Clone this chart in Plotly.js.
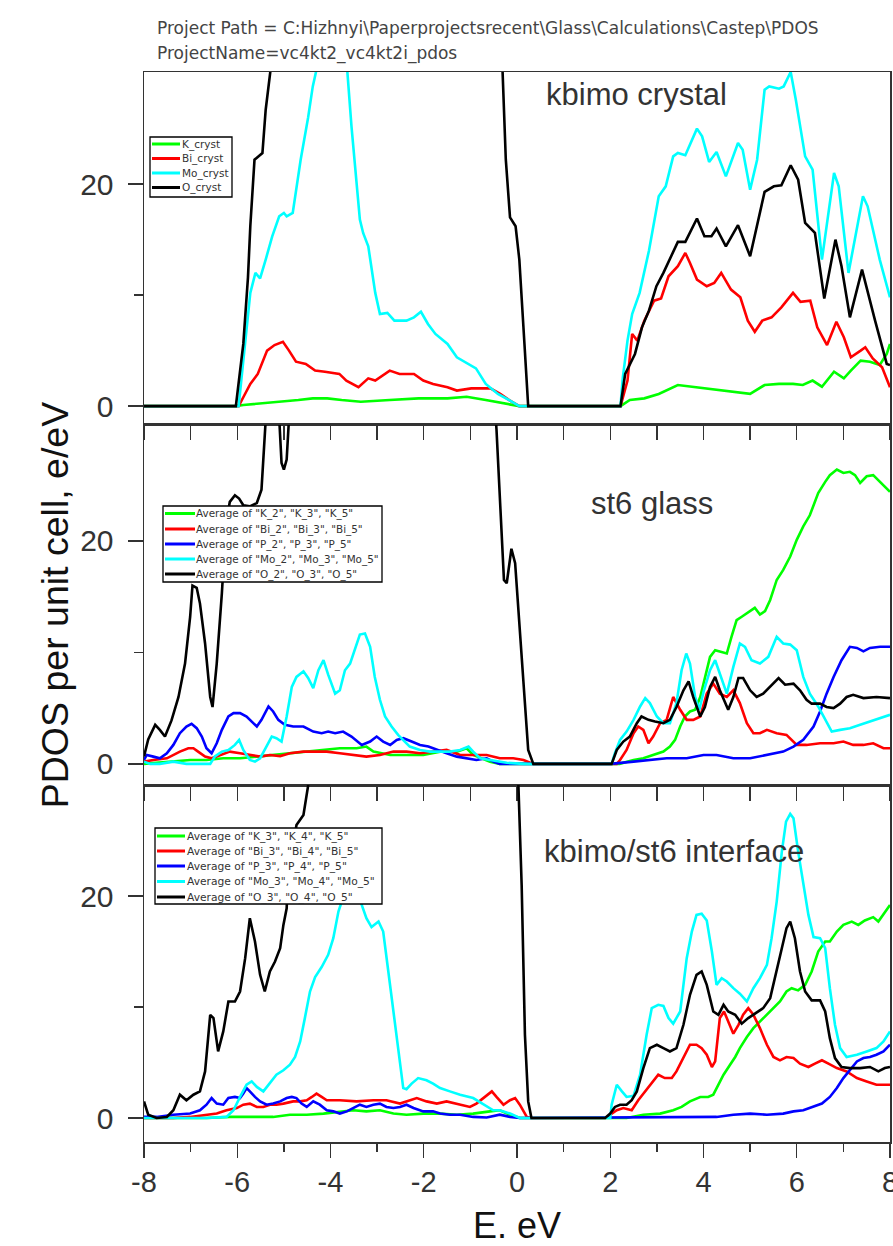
<!DOCTYPE html>
<html><head><meta charset="utf-8">
<script src="https://cdn.plot.ly/plotly-3.0.1.min.js"></script>
<style>html,body{margin:0;padding:0;background:#fff;} #chart{width:893px;height:1246px;}</style>
</head><body><div id="chart"></div>
<script>
// ---------- Panel 1: kbimo crystal  ([E, PDOS] pairs) ----------
const K_cryst = [[-8,0],[-6.03,0],[-5.87,0.1],[-5.41,0.25],[-5.0,0.4],[-4.69,0.55],[-4.38,0.7],[-4.07,0.7],[-3.76,0.55],[-3.35,0.4],[-2.73,0.55],[-2.11,0.7],[-1.49,0.7],[-1.08,0.85],[-0.67,0.55],[-0.26,0.25],[0.05,0],[2.22,0],[2.42,0.55],[2.73,0.7],[3.04,1.1],[3.45,1.9],[3.76,1.75],[4.07,1.6],[4.48,1.4],[4.79,1.25],[5.0,1.1],[5.31,1.9],[5.62,2.0],[5.92,2.0],[6.13,1.9],[6.34,2.3],[6.54,1.75],[6.8,3.1],[7.01,2.5],[7.16,3.2],[7.37,4.1],[7.57,4.0],[7.78,3.7],[7.93,4.7],[8.0,5.6]];
const Bi_cryst = [[-8,0],[-5.97,0],[-5.87,0.8],[-5.72,2.0],[-5.56,2.9],[-5.36,5.0],[-5.2,5.5],[-5.02,5.8],[-4.89,5.0],[-4.74,4.0],[-4.53,3.8],[-4.33,3.2],[-4.12,3.1],[-3.81,2.9],[-3.66,2.3],[-3.4,1.7],[-3.19,2.5],[-3.04,2.3],[-2.73,3.2],[-2.52,2.9],[-2.21,2.9],[-2.01,2.3],[-1.8,2.0],[-1.49,1.7],[-1.29,1.4],[-0.98,1.6],[-0.57,1.6],[-0.36,1.1],[-0.15,0.5],[0.05,0],[2.22,0],[2.37,2.3],[2.47,6.5],[2.58,5.9],[2.73,7.7],[2.94,9.5],[3.09,9.7],[3.25,11.7],[3.45,12.6],[3.61,13.8],[3.71,12.9],[3.86,11.4],[4.07,10.8],[4.23,11.1],[4.38,12.0],[4.59,10.5],[4.79,9.8],[4.95,7.7],[5.1,6.7],[5.26,7.7],[5.46,8.0],[5.67,8.9],[5.92,10.2],[6.08,9.4],[6.29,9.5],[6.44,7.1],[6.65,5.5],[6.85,7.6],[7.01,6.2],[7.16,4.4],[7.37,5.0],[7.47,5.3],[7.63,4.3],[7.83,3.5],[8.0,1.7]];
const Mo_cryst = [[-8,0],[-5.97,0],[-5.87,4.1],[-5.72,10.2],[-5.61,12.0],[-5.51,11.5],[-5.39,13.2],[-5.25,15.3],[-5.1,17.1],[-5.0,17.4],[-4.94,17.1],[-4.81,17.4],[-4.64,22.2],[-4.48,26.0],[-4.38,28.8],[-4.3,30.2],[-4.0,36],[-3.8,34],[-3.64,30.2],[-3.55,25.2],[-3.45,20.7],[-3.37,16.8],[-3.3,15.6],[-3.19,14.4],[-3.04,10.2],[-2.94,8.3],[-2.78,8.4],[-2.63,7.7],[-2.37,7.7],[-2.21,8.0],[-2.06,8.5],[-1.91,7.4],[-1.75,6.5],[-1.49,5.6],[-1.29,4.4],[-1.03,3.8],[-0.88,3.4],[-0.67,2.0],[-0.41,1.1],[-0.15,0.5],[0.05,0],[2.22,0],[2.27,2.6],[2.37,5.9],[2.47,8.3],[2.63,10.2],[2.83,14.0],[3.04,18.9],[3.19,19.8],[3.35,22.5],[3.45,22.8],[3.61,22.6],[3.86,25.0],[3.97,24.3],[4.12,22.0],[4.28,22.9],[4.48,20.7],[4.74,23.7],[4.84,23.1],[5.0,19.5],[5.15,22.2],[5.31,28.5],[5.41,28.8],[5.62,28.6],[5.72,28.8],[5.87,30.1],[5.98,27.6],[6.18,22.5],[6.34,21.3],[6.54,13.2],[6.8,21.0],[6.9,19.8],[7.11,12.0],[7.42,18.9],[7.52,18.0],[7.78,13.2],[8.0,9.8]];
const O_cryst = [[-8,0],[-6.03,0],[-5.87,5.6],[-5.77,11.6],[-5.72,16.2],[-5.63,22.2],[-5.46,22.8],[-5.39,26.7],[-5.28,30.5],[-5.0,40],[-1.0,45],[-0.31,30.2],[-0.24,22.2],[-0.15,17.0],[-0.03,16.2],[0.05,13.2],[0.16,5.6],[0.24,0],[2.22,0],[2.32,2.9],[2.53,4.7],[2.68,7.1],[2.83,8.6],[2.99,10.8],[3.14,12.0],[3.35,13.8],[3.45,14.8],[3.61,14.8],[3.86,16.9],[4.02,15.3],[4.17,15.3],[4.28,16.0],[4.48,14.4],[4.74,16.3],[5.0,13.5],[5.31,19.3],[5.51,19.8],[5.67,19.9],[5.87,21.7],[6.03,20.4],[6.18,16.5],[6.39,15.6],[6.59,9.7],[6.83,15.0],[6.96,12.6],[7.14,8.0],[7.4,12.3],[7.68,7.7],[7.93,3.8],[8.0,3.7]];

// ---------- Panel 2: st6 glass ----------
const K_glass = [[-8,0],[-7.37,0.2],[-7.01,0.35],[-6.66,0.35],[-6.3,0.5],[-5.94,0.5],[-5.58,0.65],[-5.23,0.8],[-4.87,0.95],[-4.51,1.1],[-4.15,1.25],[-3.8,1.4],[-3.44,1.4],[-3.23,1.55],[-3.08,1.1],[-2.72,0.8],[-2.37,0.8],[-2.01,0.8],[-1.65,1.1],[-1.29,1.1],[-1.08,1.4],[-0.94,0.8],[-0.58,0.2],[-0.37,0],[2.2,0],[2.5,0.35],[2.71,0.5],[2.92,0.8],[3.14,1.1],[3.28,1.55],[3.39,2.15],[3.5,3.35],[3.6,4.25],[3.71,4.7],[3.82,4.85],[3.93,6.0],[4.03,7.8],[4.14,9.6],[4.25,10.2],[4.35,10.1],[4.5,9.9],[4.6,11.4],[4.71,12.9],[4.82,13.2],[5.0,13.7],[5.1,14.0],[5.21,13.4],[5.32,13.7],[5.43,14.7],[5.57,16.5],[5.71,17.4],[5.86,18.6],[6.0,20.1],[6.14,21.3],[6.28,22.3],[6.46,24.3],[6.61,25.3],[6.71,25.9],[6.86,26.4],[7.0,26.1],[7.14,26.2],[7.25,25.9],[7.36,25.2],[7.5,25.8],[7.64,25.9],[7.79,25.3],[8.0,24.4]];
const Bi_glass = [[-8,0.2],[-7.8,0.35],[-7.51,0.5],[-7.37,0.8],[-7.23,1.1],[-7.05,1.4],[-6.94,1.4],[-6.84,1.1],[-6.69,0.65],[-6.55,0.5],[-6.33,0.8],[-6.16,1.1],[-5.94,0.95],[-5.73,0.8],[-5.51,0.65],[-5.3,0.8],[-5.08,0.7],[-4.87,0.95],[-4.58,1.1],[-4.37,1.1],[-4.08,1.1],[-3.8,0.95],[-3.51,0.8],[-3.23,0.65],[-2.94,0.8],[-2.65,1.1],[-2.37,1.1],[-2.08,0.95],[-1.8,1.1],[-1.51,1.25],[-1.22,0.8],[-0.94,0.8],[-0.65,0.8],[-0.37,0.5],[-0.08,0.5],[0.14,0.35],[0.35,0],[2.14,0],[2.21,0.35],[2.35,1.25],[2.5,2.75],[2.6,3.35],[2.71,3.05],[2.82,1.85],[2.92,2.45],[3.07,3.65],[3.21,3.95],[3.35,6.0],[3.5,4.85],[3.64,3.95],[3.78,3.95],[3.93,4.25],[4.07,6.3],[4.21,7.2],[4.35,6.3],[4.5,6.0],[4.64,6.6],[4.78,5.45],[4.93,3.65],[5.07,2.75],[5.21,2.75],[5.36,3.05],[5.57,2.75],[5.78,2.6],[6.0,1.7],[6.21,1.7],[6.5,1.85],[6.79,1.85],[7.0,2.0],[7.21,1.7],[7.43,1.7],[7.64,1.85],[7.86,1.4],[8.0,1.4]];
const P_glass = [[-8,0.35],[-7.94,0.8],[-7.8,0.65],[-7.66,0.5],[-7.51,0.95],[-7.37,1.7],[-7.23,2.75],[-7.09,3.35],[-6.98,3.6],[-6.87,3.2],[-6.76,2.45],[-6.66,1.4],[-6.55,0.95],[-6.44,1.85],[-6.33,3.05],[-6.19,4.25],[-6.08,4.55],[-5.94,4.55],[-5.8,4.25],[-5.69,3.8],[-5.58,3.35],[-5.48,3.95],[-5.33,5.15],[-5.23,4.7],[-5.12,3.95],[-4.98,3.5],[-4.8,3.35],[-4.58,3.35],[-4.37,2.9],[-4.19,2.75],[-4.05,2.9],[-3.9,2.75],[-3.73,2.9],[-3.55,2.45],[-3.33,1.7],[-3.15,2.0],[-3.01,2.45],[-2.87,2.0],[-2.72,1.7],[-2.58,2.15],[-2.44,2.3],[-2.26,2.0],[-2.08,1.7],[-1.9,1.55],[-1.72,1.25],[-1.51,0.95],[-1.29,0.65],[-1.08,0.5],[-0.87,0.35],[-0.65,0.5],[-0.51,0.2],[-0.37,0],[2.0,0],[2.5,0.2],[2.85,0.35],[3.21,0.5],[3.64,0.5],[4.0,0.8],[4.28,0.8],[4.64,0.5],[5.0,0.5],[5.36,0.8],[5.71,1.1],[5.93,1.55],[6.14,2.15],[6.36,3.35],[6.5,4.7],[6.64,6.3],[6.79,7.8],[6.96,9.3],[7.14,10.5],[7.29,10.4],[7.43,10.1],[7.57,10.4],[7.79,10.5],[8.0,10.5]];
const Mo_glass = [[-8,0.2],[-7.87,0],[-7.66,0],[-7.37,0.2],[-7.09,0],[-6.58,0],[-6.48,0.66],[-6.33,1.1],[-6.19,1.25],[-6.05,1.7],[-5.96,2.15],[-5.87,1.25],[-5.73,0.35],[-5.62,0.2],[-5.51,0.5],[-5.41,1.25],[-5.26,2.45],[-5.16,2.3],[-5.05,2.0],[-4.94,4.25],[-4.83,6.9],[-4.73,7.8],[-4.58,8.3],[-4.48,7.7],[-4.37,6.8],[-4.26,8.4],[-4.15,9.3],[-4.05,8.0],[-3.9,6.3],[-3.8,6.6],[-3.69,8.4],[-3.58,9.0],[-3.48,10.2],[-3.37,11.6],[-3.26,11.7],[-3.15,10.5],[-3.05,7.8],[-2.94,5.75],[-2.83,4.25],[-2.69,3.35],[-2.55,2.6],[-2.44,2.15],[-2.3,1.55],[-2.08,1.25],[-1.87,1.1],[-1.65,1.1],[-1.44,1.1],[-1.22,1.25],[-1.04,1.55],[-0.94,1.1],[-0.79,0.5],[-0.58,0.35],[-0.37,0.2],[-0.22,0.1],[0.14,0],[2.03,0],[2.1,0.95],[2.21,2.15],[2.35,2.9],[2.5,3.95],[2.64,5.15],[2.75,5.9],[2.85,5.45],[3.0,4.25],[3.14,3.65],[3.28,3.65],[3.42,5.45],[3.53,8.4],[3.63,9.9],[3.71,9.0],[3.82,6.0],[3.91,4.85],[4.01,6.6],[4.14,8.4],[4.25,9.3],[4.35,8.1],[4.5,6.3],[4.64,8.7],[4.78,10.8],[4.89,10.5],[5.03,9.3],[5.21,9.0],[5.39,9.6],[5.57,11.4],[5.71,10.8],[5.86,10.7],[6.0,10.2],[6.14,7.8],[6.28,6.3],[6.46,5.15],[6.61,3.95],[6.75,2.9],[6.93,3.05],[7.14,3.2],[7.36,3.5],[7.57,3.8],[7.79,4.1],[8.0,4.4]];
const O_glass = [[-8,0.66],[-7.91,2.2],[-7.76,3.5],[-7.66,3.05],[-7.55,2.45],[-7.41,3.9],[-7.26,6.0],[-7.12,9.0],[-7.01,13.2],[-6.96,16.0],[-6.87,15.8],[-6.8,14.4],[-6.69,10.8],[-6.58,6.0],[-6.53,5.1],[-6.44,9.0],[-6.33,15.3],[-6.24,21.6],[-6.16,23.5],[-6.05,24.1],[-5.96,23.8],[-5.87,23.2],[-5.73,23.1],[-5.58,23.4],[-5.48,24.6],[-5.41,29.0],[-5.33,35],[-5.15,35],[-5.1,30.5],[-5.05,27.0],[-5.0,26.4],[-4.94,27.3],[-4.89,31],[-4.5,40],[-2.0,45],[-0.6,40],[-0.44,30],[-0.37,24.0],[-0.28,16.5],[-0.22,16.2],[-0.12,19.3],[-0.04,18.0],[0.06,12.0],[0.17,5.4],[0.24,1.25],[0.35,0],[2.03,0],[2.14,1.25],[2.28,2.0],[2.42,2.45],[2.57,3.65],[2.67,4.25],[2.82,3.95],[2.96,3.8],[3.14,3.65],[3.28,3.95],[3.42,5.1],[3.57,6.6],[3.68,7.4],[3.78,6.0],[3.93,4.25],[4.03,5.1],[4.14,6.9],[4.25,7.8],[4.35,6.6],[4.53,4.85],[4.64,6.0],[4.75,7.7],[4.85,7.7],[5.0,6.6],[5.14,6.0],[5.28,6.3],[5.43,6.9],[5.61,7.7],[5.75,7.1],[5.93,7.2],[6.07,6.6],[6.21,5.75],[6.32,5.4],[6.5,5.4],[6.64,5.1],[6.79,5.0],[6.93,5.4],[7.07,6.0],[7.21,6.2],[7.43,5.9],[7.71,6.0],[8.0,5.9]];

// ---------- Panel 3: kbimo/st6 interface ----------
const K_intf = [[-8,0],[-6.66,0],[-6.16,0.1],[-5.23,0.1],[-4.87,0.3],[-4.51,0.3],[-4.15,0.4],[-3.8,0.6],[-3.51,0.7],[-3.23,0.6],[-2.94,0.7],[-2.65,0.4],[-2.37,0.3],[-2.01,0.4],[-1.65,0.4],[-1.29,0.3],[-0.94,0.4],[-0.58,0.6],[-0.37,0.7],[-0.15,0.3],[0.06,0],[2.35,0],[2.71,0.3],[3.07,0.4],[3.35,0.7],[3.53,1.0],[3.71,1.5],[3.93,1.9],[4.1,1.9],[4.21,2.1],[4.32,3.0],[4.43,3.9],[4.57,4.8],[4.68,5.5],[4.78,6.3],[4.93,7.3],[5.07,8.1],[5.21,8.7],[5.36,9.3],[5.5,9.9],[5.64,10.5],[5.78,11.4],[5.89,11.7],[6.03,11.5],[6.18,12.0],[6.32,13.2],[6.46,15.0],[6.61,15.9],[6.71,15.9],[6.86,16.8],[7.0,17.4],[7.18,17.7],[7.32,17.4],[7.46,17.8],[7.64,18.1],[7.75,17.7],[7.89,18.6],[8.0,19.2]];
const Bi_intf = [[-8,0],[-7.37,0],[-7.01,0.1],[-6.66,0.3],[-6.44,0.4],[-6.23,0.7],[-6.01,0.9],[-5.87,1.2],[-5.73,1.3],[-5.58,1.0],[-5.44,1.0],[-5.3,1.2],[-5.16,1.2],[-5.01,1.3],[-4.8,1.5],[-4.65,1.5],[-4.51,1.6],[-4.4,1.9],[-4.3,2.2],[-4.19,1.9],[-4.08,1.6],[-3.8,1.6],[-3.44,1.5],[-3.08,1.6],[-2.8,1.6],[-2.51,1.3],[-2.37,1.5],[-2.15,1.8],[-1.94,1.5],[-1.72,1.3],[-1.51,1.5],[-1.22,1.2],[-1.01,1.0],[-0.87,1.3],[-0.72,1.8],[-0.54,2.4],[-0.44,1.9],[-0.29,1.2],[-0.15,1.6],[-0.04,1.8],[0.06,1.2],[0.21,0.1],[0.3,0],[1.9,0],[2.0,0.3],[2.14,0.7],[2.28,0.9],[2.46,0.7],[2.6,1.6],[2.75,2.4],[2.89,3.1],[3.03,3.9],[3.17,3.6],[3.32,3.6],[3.42,4.2],[3.57,5.4],[3.71,6.6],[3.85,6.6],[3.96,6.3],[4.07,5.7],[4.18,4.6],[4.25,5.1],[4.35,9.0],[4.44,9.6],[4.53,8.7],[4.64,7.6],[4.75,8.4],[4.85,9.3],[4.96,9.9],[5.07,9.3],[5.21,8.1],[5.36,6.6],[5.5,5.5],[5.64,5.2],[5.78,5.5],[5.93,5.4],[6.07,4.9],[6.25,4.6],[6.39,4.9],[6.54,5.2],[6.68,4.9],[6.86,4.5],[7.07,4.2],[7.29,3.6],[7.5,3.3],[7.71,3.0],[8.0,3.0]];
const P_intf = [[-8,0.1],[-7.73,0.1],[-7.37,0.3],[-7.01,0.4],[-6.8,0.7],[-6.66,1.2],[-6.55,1.8],[-6.44,1.3],[-6.3,1.2],[-6.19,1.8],[-6.05,1.9],[-5.94,1.8],[-5.87,2.2],[-5.8,2.7],[-5.73,2.4],[-5.62,1.9],[-5.51,1.5],[-5.37,1.2],[-5.23,1.3],[-5.08,1.5],[-4.94,1.8],[-4.83,1.9],[-4.73,1.8],[-4.62,1.3],[-4.51,1.0],[-4.37,1.5],[-4.23,1.2],[-4.08,0.7],[-3.94,0.6],[-3.8,0.4],[-3.65,0.6],[-3.51,0.9],[-3.37,1.2],[-3.23,1.0],[-3.08,1.2],[-2.94,1.3],[-2.8,1.0],[-2.65,0.9],[-2.51,1.0],[-2.37,1.2],[-2.22,0.9],[-2.01,0.6],[-1.8,0.6],[-1.65,0.4],[-1.44,0.3],[-1.22,0.3],[-0.94,0.1],[-0.65,0.05],[-0.37,0.3],[-0.15,0.1],[0.06,0],[4.28,0.1],[4.64,0.3],[5.0,0.4],[5.36,0.3],[5.71,0.4],[5.93,0.6],[6.14,0.7],[6.36,1.0],[6.54,1.3],[6.71,1.9],[6.86,2.7],[7.0,3.6],[7.14,4.3],[7.29,5.1],[7.43,5.4],[7.57,5.5],[7.71,5.7],[7.86,6.0],[8.0,6.6]];
const Mo_intf = [[-8,0],[-6.66,0],[-6.23,0.1],[-6.08,0.7],[-5.94,1.9],[-5.8,3.0],[-5.69,3.3],[-5.58,2.8],[-5.44,2.4],[-5.3,3.1],[-5.16,3.9],[-5.01,4.3],[-4.87,4.8],[-4.76,5.5],[-4.65,6.9],[-4.55,9.0],[-4.44,11.4],[-4.33,12.7],[-4.19,13.6],[-4.05,14.7],[-3.94,16.2],[-3.83,18.6],[-3.76,19.5],[-3.65,21.5],[-3.51,22.0],[-3.4,20.5],[-3.33,19.2],[-3.23,18.0],[-3.12,17.2],[-2.97,17.7],[-2.87,16.8],[-2.76,13.2],[-2.65,9.6],[-2.55,6.0],[-2.44,2.7],[-2.37,2.6],[-2.26,3.1],[-2.12,3.6],[-1.94,3.4],[-1.8,3.1],[-1.65,2.7],[-1.44,2.4],[-1.22,2.1],[-0.94,1.8],[-0.72,1.2],[-0.51,0.7],[-0.37,0.7],[-0.15,0.4],[0.06,0],[2.0,0],[2.03,1.2],[2.14,3.0],[2.25,2.4],[2.35,1.9],[2.5,2.0],[2.64,3.9],[2.78,7.5],[2.89,9.9],[3.03,10.2],[3.14,10.1],[3.25,9.0],[3.35,8.5],[3.5,9.6],[3.64,14.4],[3.75,16.8],[3.85,18.3],[3.96,18.4],[4.07,17.8],[4.18,15.0],[4.28,12.0],[4.39,12.6],[4.5,12.3],[4.64,11.7],[4.78,11.2],[4.93,10.5],[5.07,11.7],[5.21,12.6],[5.36,13.8],[5.46,16.2],[5.57,19.5],[5.68,24.0],[5.77,26.7],[5.86,27.4],[5.93,27.0],[6.03,24.0],[6.14,21.0],[6.25,18.3],[6.36,16.3],[6.5,16.2],[6.61,15.3],[6.71,11.7],[6.82,8.4],[6.93,6.3],[7.07,5.5],[7.29,5.7],[7.5,6.0],[7.71,6.3],[7.86,6.9],[8.0,7.8]];
const O_intf = [[-8,1.5],[-7.91,0.3],[-7.73,0],[-7.51,0.1],[-7.37,0.7],[-7.23,2.1],[-7.09,1.6],[-6.94,2.1],[-6.8,2.4],[-6.69,4.2],[-6.58,9.3],[-6.51,9.0],[-6.41,6.0],[-6.3,7.8],[-6.19,10.5],[-6.05,10.5],[-5.94,11.4],[-5.83,14.4],[-5.73,18.0],[-5.62,15.9],[-5.51,12.9],[-5.41,11.4],[-5.3,13.2],[-5.19,14.1],[-5.08,15.3],[-5.01,17.4],[-4.94,18.9],[-4.9,23.1],[-4.83,23.7],[-4.73,26.4],[-4.58,27.3],[-4.51,29.4],[-4.44,31],[-4.0,40],[-1.0,45],[-0.1,35],[0.03,30],[0.1,21.0],[0.17,7.5],[0.24,1.5],[0.31,0],[1.89,0],[2.0,0.4],[2.1,1.0],[2.21,1.2],[2.35,1.2],[2.46,1.6],[2.57,2.4],[2.71,4.5],[2.85,6.3],[3.0,6.6],[3.14,6.3],[3.28,6.0],[3.42,6.3],[3.57,8.4],[3.71,11.1],[3.85,12.9],[3.96,13.2],[4.07,12.0],[4.21,9.6],[4.32,9.3],[4.43,10.2],[4.53,9.6],[4.68,9.3],[4.82,8.5],[4.96,9.0],[5.1,9.4],[5.28,9.9],[5.43,10.8],[5.57,13.2],[5.68,15.3],[5.78,17.1],[5.86,17.7],[5.96,16.2],[6.07,13.2],[6.18,11.4],[6.32,10.6],[6.5,10.6],[6.61,9.6],[6.71,7.2],[6.82,5.4],[6.96,4.6],[7.14,4.5],[7.36,4.5],[7.57,4.6],[7.75,4.2],[7.89,4.5],[8.0,4.6]];

// ---------- labels ----------
const names1 = ['K_cryst', 'Bi_cryst', 'Mo_cryst', 'O_cryst'];
const names2 = ['Average of "K_2", "K_3", "K_5"', 'Average of "Bi_2", "Bi_3", "Bi_5"', 'Average of "P_2", "P_3", "P_5"', 'Average of "Mo_2", "Mo_3", "Mo_5"', 'Average of "O_2", "O_3", "O_5"'];
const names3 = ['Average of "K_3", "K_4", "K_5"', 'Average of "Bi_3", "Bi_4", "Bi_5"', 'Average of "P_3", "P_4", "P_5"', 'Average of "Mo_3", "Mo_4", "Mo_5"', 'Average of "O_3", "O_4", "O_5"'];
const panelTitles = ['kbimo crystal', 'st6 glass', 'kbimo/st6 interface'];
const headerLines = ['Project Path = C:Hizhnyi\\Paperprojectsrecent\\Glass\\Calculations\\Castep\\PDOS', 'ProjectName=vc4kt2_vc4kt2i_pdos'];
const xTickVals = [-8, -6, -4, -2, 0, 2, 4, 6, 8];
const xMinorVals = [-7, -5, -3, -1, 1, 3, 5, 7];
const yTickVals = [0, 20];
const xTitle = 'E. eV';
const yTitle = 'PDOS per unit cell, e/eV';

const FONT = '"Liberation Sans", Arial, sans-serif';
const WIDE = '"DejaVu Sans", sans-serif';
const C = {K:'#00ff00', Bi:'#ff0000', P:'#0000ff', Mo:'#00ffff', O:'#000000'};

function tr(data, name, color, xa, ya) {
  return {type:'scatter', mode:'lines', x:data.map(p=>p[0]), y:data.map(p=>p[1]), name:name,
          line:{color:color, width:2.6}, xaxis:xa, yaxis:ya, showlegend:false, hoverinfo:'skip'};
}
const panels = [
  {xa:'x',  ya:'y',  series:[[K_cryst,C.K],[Bi_cryst,C.Bi],[Mo_cryst,C.Mo],[O_cryst,C.O]], names:names1},
  {xa:'x2', ya:'y2', series:[[K_glass,C.K],[Bi_glass,C.Bi],[P_glass,C.P],[Mo_glass,C.Mo],[O_glass,C.O]], names:names2},
  {xa:'x3', ya:'y3', series:[[K_intf,C.K],[Bi_intf,C.Bi],[P_intf,C.P],[Mo_intf,C.Mo],[O_intf,C.O]], names:names3}
];
const traces = [];
panels.forEach(p => p.series.forEach((s, i) => traces.push(tr(s[0], p.names[i], s[1], p.xa, p.ya))));

// ---------- legend boxes (figure pixel layout -> paper coords) ----------
const PL = 144, PW = 746, PT = 72, PH = 1070;
const px = v => (v - PL) / PW, py = v => 1 - (v - PT) / PH;
const legendLayout = [
  {box:[150,232,137,197], rows:[144,158.5,173,187.5], line:[152,180], text:181, size:10.5},
  {box:[163,382,506,582], rows:[513.5,529,544,559,574], line:[165,195], text:195, size:10.4},
  {box:[155,382,828,904], rows:[836,851,866,881.5,897], line:[157,185], text:186, size:10.7}
];
const shapes = [], legendAnn = [];
legendLayout.forEach((L, k) => {
  shapes.push({type:'rect', xref:'paper', yref:'paper', layer:'above', x0:px(L.box[0]), x1:px(L.box[1]),
               y0:py(L.box[3]), y1:py(L.box[2]), fillcolor:'#ffffff', line:{color:'#000', width:1.3}});
  panels[k].series.forEach((s, i) => {
    shapes.push({type:'line', xref:'paper', yref:'paper', layer:'above', x0:px(L.line[0]), x1:px(L.line[1]),
                 y0:py(L.rows[i]), y1:py(L.rows[i]), line:{color:s[1], width:3}});
    legendAnn.push({text:panels[k].names[i], xref:'paper', yref:'paper', x:px(L.text), y:py(L.rows[i]),
                    xanchor:'left', yanchor:'middle', showarrow:false, borderpad:0,
                    font:{family:WIDE, size:L.size, color:'#333'}});
  });
});

const AX = '#333';
function xax(anchor, last) {
  const a = {anchor:anchor, domain:[0,1], range:[-8,8], showgrid:false, zeroline:false,
    showline:true, mirror:true, linecolor:AX, linewidth:1.5,
    ticks:'outside', tickcolor:AX, tickwidth:1.3, ticklen:14, tick0:0, dtick:1, showticklabels:false};
  if (last) {
    a.tickmode = 'array'; a.tickvals = xTickVals; a.ticktext = xTickVals.map(String);
    a.showticklabels = true; a.ticklabeloverflow = 'allow';
    a.tickfont = {family:FONT, size:29, color:'#333'};
    a.minor = {tickvals:xMinorVals, ticks:'outside', ticklen:8, tickcolor:AX, tickwidth:1.3};
    a.title = {text:xTitle, font:{family:FONT, size:36, color:'#111'}, standoff:26};
  }
  return a;
}
function yax(anchor, dom, rng, title) {
  const a = {anchor:anchor, domain:dom, range:rng, showgrid:false, zeroline:false,
    showline:true, mirror:true, linecolor:AX, linewidth:1.5,
    ticks:'outside', tickcolor:AX, tickwidth:1.3, ticklen:15, tickmode:'array', tickvals:yTickVals,
    minor:{tickvals:[10], ticks:'outside', ticklen:9, tickcolor:AX, tickwidth:1.3},
    tickfont:{family:FONT, size:30, color:'#333'}, ticklabelstandoff:8};
  if (title) a.title = {text:title, font:{family:FONT, size:37.5, color:'#111'}, standoff:0};
  return a;
}
const annFont = {family:FONT, size:31, color:'#333'};
const headFont = {family:WIDE, size:17, color:'#444'};
const layout = {
  width:893, height:1246, margin:{l:144, r:3, t:72, b:104},
  paper_bgcolor:'#fff', plot_bgcolor:'#fff', showlegend:false,
  font:{family:FONT},
  xaxis:xax('y', false), xaxis2:xax('y2', false), xaxis3:xax('y3', true),
  yaxis:yax('x', [0.6701,1], [-1.7,30.1]),
  yaxis2:yax('x2', [0.3336,0.6701], [-1.9,30.4], yTitle),
  yaxis3:yax('x3', [0,0.3336], [-2.16,30.0]),
  shapes:shapes,
  annotations:[
    {text:panelTitles[0], xref:'x', yref:'y', x:2.57, y:28.1, showarrow:false, font:annFont},
    {text:panelTitles[1], xref:'x2', yref:'y2', x:2.9, y:23.4, showarrow:false, font:annFont},
    {text:panelTitles[2], xref:'x3', yref:'y3', x:3.37, y:24.05, showarrow:false, font:annFont},
    {text:headerLines[0], xref:'paper', yref:'paper', x:px(155), y:py(28), xanchor:'left', yanchor:'middle', showarrow:false, font:headFont},
    {text:headerLines[1], xref:'paper', yref:'paper', x:px(155), y:py(53), xanchor:'left', yanchor:'middle', showarrow:false, font:headFont}
  ].concat(legendAnn)
};
Plotly.newPlot('chart', traces, layout, {staticPlot:true, displayModeBar:false});
</script></body></html>
